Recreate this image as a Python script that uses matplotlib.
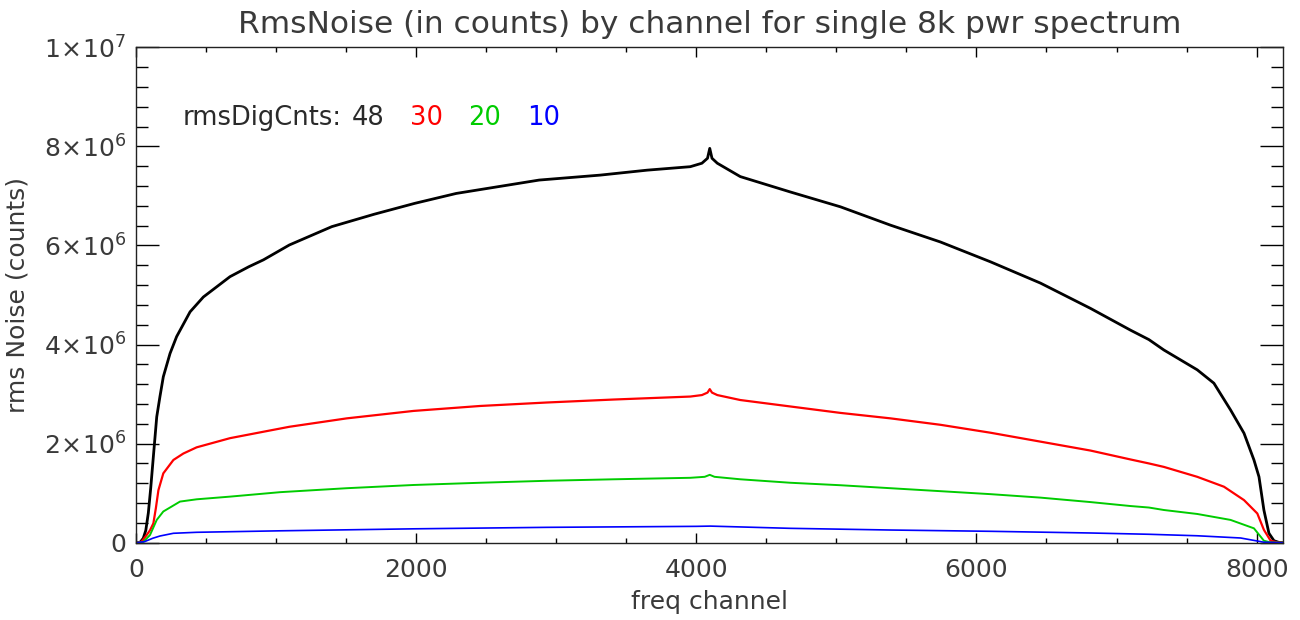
import matplotlib
matplotlib.use("Agg")
import matplotlib.pyplot as plt
from matplotlib.ticker import MultipleLocator

# ---------------- data ----------------
ch_48 = [0, 30, 52, 70, 88, 105, 124, 148, 171, 195, 243, 290, 386, 481, 671, 805,
         910, 1095, 1398, 1700, 1990, 2286, 2878, 3314, 3649, 3957, 4040, 4080, 4096,
         4112, 4150, 4314, 4671, 5029, 5386, 5743, 6100, 6457, 6814, 7100, 7231, 7338,
         7576, 7695, 7814, 7910, 7981, 8017, 8052, 8088, 8124, 8160, 8192]
rms_48 = [0.0, 0.01, 0.09, 0.25, 0.60, 1.10, 1.74, 2.54, 2.95, 3.35, 3.82, 4.16, 4.66,
          4.96, 5.37, 5.57, 5.71, 6.01, 6.38, 6.63, 6.85, 7.05, 7.32, 7.42, 7.52, 7.59,
          7.66, 7.76, 7.96, 7.76, 7.66, 7.39, 7.08, 6.78, 6.41, 6.07, 5.67, 5.24, 4.73,
          4.29, 4.10, 3.89, 3.49, 3.22, 2.68, 2.21, 1.67, 1.33, 0.66, 0.19, 0.04, 0.005, 0.0]

ch_30 = [0, 40, 76, 100, 124, 142, 160, 195, 267, 338, 433, 671, 910, 1095, 1505, 1981,
         2457, 2933, 3410, 3957, 4040, 4080, 4096, 4112, 4150, 4314, 4671, 5029, 5386,
         5743, 6100, 6457, 6814, 7100, 7231, 7338, 7576, 7767, 7910, 8005, 8052, 8100,
         8150, 8192]
rms_30 = [0.0, 0.02, 0.155, 0.25, 0.39, 0.70, 1.06, 1.40, 1.67, 1.80, 1.925, 2.11, 2.24,
          2.34, 2.51, 2.66, 2.76, 2.83, 2.89, 2.95, 2.98, 3.03, 3.10, 3.03, 2.98, 2.88,
          2.75, 2.62, 2.51, 2.38, 2.22, 2.04, 1.86, 1.68, 1.60, 1.53, 1.33, 1.13, 0.86,
          0.59, 0.26, 0.04, 0.005, 0.0]

ch_20 = [0, 50, 100, 148, 195, 314, 433, 671, 1029, 1505, 1981, 2457, 2933, 3410, 3957,
         4060, 4096, 4130, 4314, 4671, 5029, 5386, 5743, 6100, 6457, 6814, 7100, 7231,
         7338, 7576, 7814, 7981, 8052, 8100, 8192]
rms_20 = [0.0, 0.01, 0.155, 0.46, 0.63, 0.83, 0.876, 0.93, 1.02, 1.10, 1.165, 1.21, 1.25,
          1.28, 1.31, 1.33, 1.37, 1.33, 1.28, 1.21, 1.16, 1.10, 1.04, 0.98, 0.91, 0.82,
          0.74, 0.71, 0.66, 0.58, 0.46, 0.29, 0.04, 0.005, 0.0]

ch_10 = [0, 60, 120, 171, 267, 433, 1029, 1981, 2933, 4000, 4100, 4671, 5386, 6100,
         6814, 7231, 7576, 7886, 8052, 8192]
rms_10 = [0.0, 0.02, 0.09, 0.135, 0.19, 0.21, 0.24, 0.28, 0.31, 0.33, 0.335, 0.29, 0.256,
          0.23, 0.196, 0.17, 0.14, 0.095, 0.01, 0.0]

scale = 1e6
series = [(ch_48, rms_48, "black", 2.0),
          (ch_30, rms_30, "#ff0000", 1.6),
          (ch_20, rms_20, "#00cc00", 1.4),
          (ch_10, rms_10, "#0000ff", 1.2)]

legend_labels = ["rmsDigCnts:", "48", "30", "20", "10"]
legend_colors = ["#2a2a2a", "#2a2a2a", "#ff0000", "#00cc00", "#0000ff"]

xticks = [0, 2000, 4000, 6000, 8000]
xticklabels = ["0", "2000", "4000", "6000", "8000"]
yticks = [0, 2e6, 4e6, 6e6, 8e6, 1e7]
yticklabels = ["0", r"$2\!\times\!10^{6}$", r"$4\!\times\!10^{6}$", r"$6\!\times\!10^{6}$",
               r"$8\!\times\!10^{6}$", r"$1\!\times\!10^{7}$"]

# ---------------- style ----------------
plt.rcParams["font.family"] = ["DejaVu Sans"]
plt.rcParams["mathtext.fontset"] = "dejavusans"
plt.rcParams["mathtext.default"] = "regular"
TXT = "#3a3a3a"

fig = plt.figure(figsize=(13, 6.2), dpi=100)
ax = fig.add_axes([136 / 1300, 1 - 542.7 / 620, (1283.5 - 136) / 1300, (542.7 - 47.3) / 620])

for x, y, c, lw in series:
    ax.plot(x, [v * scale for v in y], color=c, lw=lw, solid_joinstyle="round")

ax.set_xlim(0, 8192)
ax.set_ylim(0, 1e7)

ax.set_xticks(xticks, xticklabels)
ax.set_yticks(yticks, yticklabels)
ax.xaxis.set_minor_locator(MultipleLocator(500))
ax.yaxis.set_minor_locator(MultipleLocator(4e5))

ax.tick_params(axis="x", which="major", direction="in", length=7.2, width=1,
               top=True, bottom=True, labelsize=18, labelcolor=TXT, pad=11)
ax.tick_params(axis="x", which="minor", direction="in", length=3.6, width=1,
               top=True, bottom=True)
ax.tick_params(axis="y", which="major", direction="in", length=16.5, width=1,
               left=True, right=True, labelsize=18, labelcolor=TXT, pad=7)
ax.tick_params(axis="y", which="minor", direction="in", length=8.6, width=1,
               left=True, right=True)
for s in ax.spines.values():
    s.set_linewidth(1)
    s.set_color("#222222")

ax.set_title("RmsNoise (in counts) by channel for single 8k pwr spectrum",
             fontsize=22.5, color=TXT, pad=10)
ax.set_xlabel("freq channel", fontsize=18, color=TXT, labelpad=6)
ax.set_ylabel("rms Noise (counts)", fontsize=18, color=TXT, labelpad=10)

legend_x_px = [183, 352, 410, 468, 527]
for lab, col, xp in zip(legend_labels, legend_colors, legend_x_px):
    fig.text(xp / 1300, 1 - 118 / 620, lab, color=col, fontsize=18.5,
             ha="left", va="center")

fig.savefig("out.png", dpi=100)
